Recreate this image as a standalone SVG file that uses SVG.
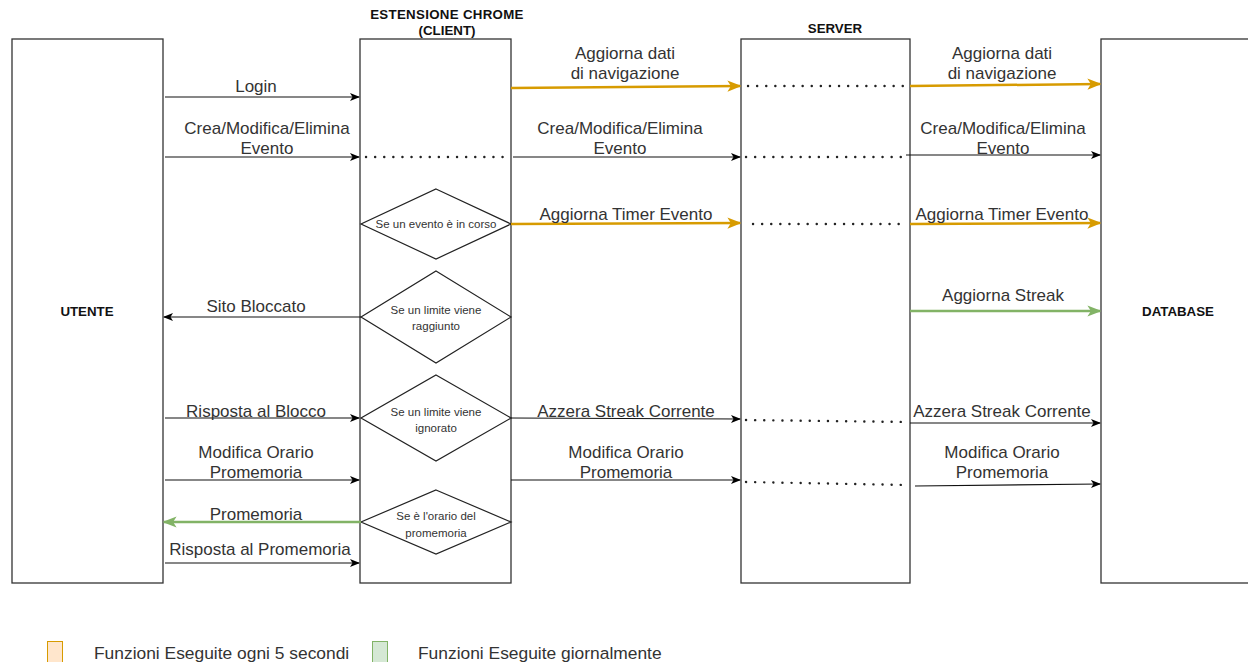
<svg xmlns="http://www.w3.org/2000/svg" width="1248" height="662" viewBox="0 0 1248 662">
<defs>
<marker id="ab" viewBox="0 0 10 10" refX="9" refY="5" markerWidth="10" markerHeight="10" markerUnits="userSpaceOnUse" orient="auto"><path d="M0,1 L10,5 L0,9 L2.5,5 Z" fill="#000"/></marker>
<marker id="ao" viewBox="0 0 10 10" refX="9" refY="5" markerWidth="14" markerHeight="14" markerUnits="userSpaceOnUse" orient="auto"><path d="M0,1 L10,5 L0,9 L2.5,5 Z" fill="#d79b00"/></marker>
<marker id="ag" viewBox="0 0 10 10" refX="9" refY="5" markerWidth="14" markerHeight="14" markerUnits="userSpaceOnUse" orient="auto"><path d="M0,1 L10,5 L0,9 L2.5,5 Z" fill="#82b366"/></marker>
</defs>
<style>
.box{fill:#fff;stroke:#333;stroke-width:1.3}
.dia{fill:#fff;stroke:#222;stroke-width:1.2}
.hd{font-family:"Liberation Sans",Arial,sans-serif;font-weight:bold;font-size:13.3px;fill:#111;text-anchor:middle}
.lb{font-family:"Liberation Sans",Arial,sans-serif;font-size:17px;fill:#333;text-anchor:middle}
.sm{font-family:"Liberation Sans",Arial,sans-serif;font-size:11.5px;fill:#333;text-anchor:middle}
.lg{font-family:"Liberation Sans",Arial,sans-serif;font-size:17.4px;fill:#333}
.k{stroke:#111;stroke-width:1.2;fill:none;marker-end:url(#ab)}
.o{stroke:#d79b00;stroke-width:2.5;fill:none;marker-end:url(#ao)}
.g{stroke:#82b366;stroke-width:2.5;fill:none;marker-end:url(#ag)}
.d{stroke:#222;stroke-width:2.4;fill:none;stroke-dasharray:0.1 9;stroke-linecap:round}
</style>
<rect width="1248" height="662" fill="#fff"/>
<g id="utente"><rect class="box" x="12" y="39" width="151" height="544"/><text class="hd" x="87" y="316">UTENTE</text></g>
<g id="client"><rect class="box" x="360" y="39" width="151" height="544"/><text class="hd" x="447" y="19" letter-spacing="0.3">ESTENSIONE CHROME</text><text class="hd" x="447" y="35">(CLIENT)</text></g>
<g id="server"><rect class="box" x="741" y="39" width="169" height="544"/><text class="hd" x="835" y="33">SERVER</text></g>
<g id="database"><rect class="box" x="1101" y="39" width="160" height="544"/><text class="hd" x="1178" y="316">DATABASE</text></g>
<g id="cond-evento"><polygon class="dia" points="436,189 511,224 436,259 361,224"/><text class="sm" x="436" y="228">Se un evento è in corso</text></g>
<g id="cond-limite-raggiunto"><polygon class="dia" points="436,271 511,317 436,363 361,317"/><text class="sm" x="436" y="314">Se un limite viene</text><text class="sm" x="436" y="330">raggiunto</text></g>
<g id="cond-limite-ignorato"><polygon class="dia" points="436,375 511,418 436,461 361,418"/><text class="sm" x="436" y="416">Se un limite viene</text><text class="sm" x="436" y="432">ignorato</text></g>
<g id="cond-promemoria"><polygon class="dia" points="436,490 511,522 436,554 361,522"/><text class="sm" x="436" y="520">Se è l'orario del</text><text class="sm" x="436" y="537">promemoria</text></g>
<g id="connectors">
<line class="k" x1="165" y1="97" x2="359" y2="97"/>
<line class="k" x1="165" y1="157" x2="359" y2="157"/>
<line class="d" x1="366" y1="157" x2="508" y2="157"/>
<line class="k" x1="513" y1="157" x2="740" y2="157"/>
<line class="d" x1="746" y1="157" x2="908" y2="157"/>
<line class="k" x1="906" y1="155" x2="1100" y2="155"/>
<line class="o" x1="511" y1="88" x2="740" y2="86"/>
<line class="d" x1="748" y1="86" x2="906" y2="86"/>
<line class="o" x1="910" y1="86" x2="1100" y2="84"/>
<line class="o" x1="511" y1="224" x2="740" y2="223"/>
<line class="d" x1="753" y1="224" x2="905" y2="224"/>
<line class="o" x1="910" y1="224" x2="1100" y2="223"/>
<line class="k" x1="361" y1="317" x2="164" y2="317"/>
<line class="g" x1="910" y1="311" x2="1100" y2="311"/>
<line class="k" x1="165" y1="418" x2="359" y2="418"/>
<line class="k" x1="511" y1="418" x2="740" y2="419"/>
<line class="d" x1="746" y1="420" x2="908" y2="422"/>
<line class="k" x1="910" y1="423" x2="1100" y2="423"/>
<line class="k" x1="165" y1="480" x2="359" y2="480"/>
<line class="k" x1="511" y1="480" x2="740" y2="480"/>
<line class="d" x1="746" y1="482" x2="908" y2="485"/>
<line class="k" x1="915" y1="486" x2="1100" y2="484"/>
<line class="g" x1="361" y1="522" x2="164" y2="522"/>
<line class="k" x1="165" y1="563" x2="359" y2="563"/>
<text class="lb" x="256" y="92">Login</text>
<text class="lb" x="267" y="134">Crea/Modifica/Elimina</text><text class="lb" x="267" y="154">Evento</text>
<text class="lb" x="625" y="59">Aggiorna dati</text><text class="lb" x="625" y="79">di navigazione</text>
<text class="lb" x="620" y="134">Crea/Modifica/Elimina</text><text class="lb" x="620" y="154">Evento</text>
<text class="lb" x="1002" y="59">Aggiorna dati</text><text class="lb" x="1002" y="79">di navigazione</text>
<text class="lb" x="1003" y="134">Crea/Modifica/Elimina</text><text class="lb" x="1003" y="154">Evento</text>
<text class="lb" x="626" y="220">Aggiorna Timer Evento</text>
<text class="lb" x="1002" y="220">Aggiorna Timer Evento</text>
<text class="lb" x="256" y="312">Sito Bloccato</text>
<text class="lb" x="1003" y="301">Aggiorna Streak</text>
<text class="lb" x="256" y="417">Risposta al Blocco</text>
<text class="lb" x="626" y="417">Azzera Streak Corrente</text>
<text class="lb" x="1002" y="417">Azzera Streak Corrente</text>
<text class="lb" x="256" y="458">Modifica Orario</text><text class="lb" x="256" y="478">Promemoria</text>
<text class="lb" x="626" y="458">Modifica Orario</text><text class="lb" x="626" y="478">Promemoria</text>
<text class="lb" x="1002" y="458">Modifica Orario</text><text class="lb" x="1002" y="478">Promemoria</text>
<text class="lb" x="256" y="520">Promemoria</text>
<text class="lb" x="260" y="555">Risposta al Promemoria</text>
</g>
<g id="legend">
<rect x="47.5" y="641.5" width="15" height="24" fill="#ffe6cc" stroke="#d79b00"/>
<text class="lg" x="94" y="659">Funzioni Eseguite ogni 5 secondi</text>
<rect x="372.5" y="641.5" width="15" height="24" fill="#d5e8d4" stroke="#82b366"/>
<text class="lg" x="418" y="659">Funzioni Eseguite giornalmente</text>
</g>
</svg>
